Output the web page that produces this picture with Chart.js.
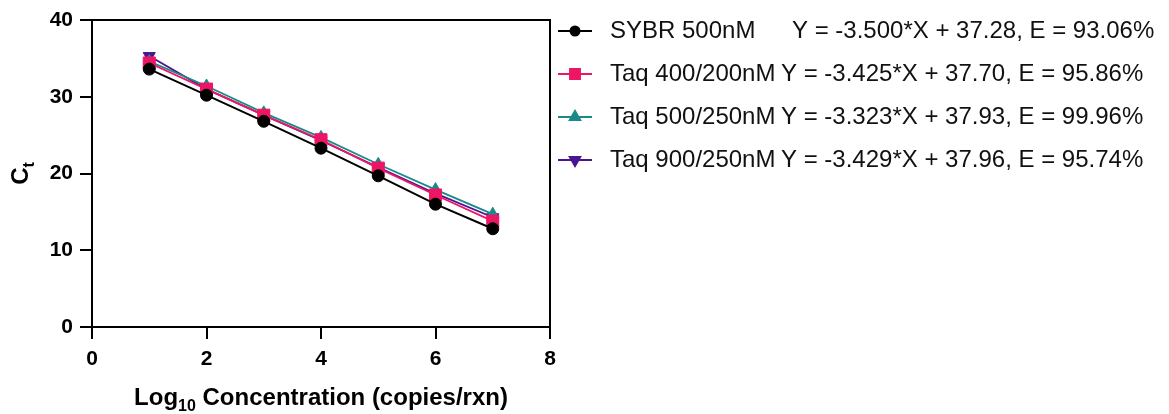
<!DOCTYPE html>
<html><head><meta charset="utf-8">
<script src="https://cdn.jsdelivr.net/npm/chart.js@4.4.1/dist/chart.umd.min.js"></script>
<style>html,body{margin:0;padding:0;background:#fff;overflow:hidden}#wrap{width:1169px;height:414px;position:relative}</style>
</head><body><div id="wrap"><canvas id="c" width="1169" height="414"></canvas></div>
<script>
// ---- data ----
const concentrations = [1, 2, 3, 4, 5, 6, 7];
const seriesNames = ['SYBR 500nM', 'Taq 400/200nM', 'Taq 500/250nM', 'Taq 900/250nM'];
const equations = [
  'Y = -3.500*X + 37.28, E = 93.06%',
  'Y = -3.425*X + 37.70, E = 95.86%',
  'Y = -3.323*X + 37.93, E = 99.96%',
  'Y = -3.429*X + 37.96, E = 95.74%'
];
const sybr500 = [33.6, 30.2, 26.8, 23.3, 19.7, 16.0, 12.8];
const taq400_200 = [34.4, 31.0, 27.6, 24.4, 20.7, 17.2, 13.8];
const taq500_250 = [34.6, 31.4, 27.9, 24.7, 21.2, 17.9, 14.7];
const taq900_250 = [35.3, 31.0, 27.6, 24.3, 20.8, 17.4, 14.3];
const xTickValues = [0, 2, 4, 6, 8];
const yTickValues = [0, 10, 20, 30, 40];
const xTitleMain = 'Log', xTitleSub = '10', xTitleRest = ' Concentration (copies/rxn)';
const yTitleMain = 'C', yTitleSub = 't';

// ---- styles ----
const FONT = '"Liberation Sans", Arial, Helvetica, sans-serif';
const colors = ['#000000', '#ee1565', '#1b8a87', '#4a1590'];
const pStyles = ['circle', 'rect', 'triangle', 'triangle'];
const pRot = [0, 0, 0, 180];
const pRad = [6, 8.5, 7, 7];
const legendRad = [4.5, 7, 6, 6];
const allSeries = [sybr500, taq400_200, taq500_250, taq900_250];

const datasets = allSeries.map((vals, i) => ({
  label: seriesNames[i],
  data: concentrations.map((x, j) => ({ x: x, y: vals[j] })),
  borderColor: colors[i],
  backgroundColor: colors[i],
  pointBackgroundColor: colors[i],
  pointBorderColor: colors[i],
  pointBorderWidth: 1,
  pointStyle: pStyles[i],
  pointRotation: pRot[i],
  pointRadius: pRad[i],
  borderWidth: i === 0 ? 2 : 1.8,
  tension: 0,
  fill: false,
  clip: false
}));

const decor = {
  id: 'decor',
  afterDraw(chart) {
    const ctx = chart.ctx, a = chart.chartArea;
    ctx.save();
    // frame
    ctx.strokeStyle = '#000'; ctx.lineWidth = 2;
    ctx.strokeRect(a.left, a.top, a.right - a.left, a.bottom - a.top);
    ctx.fillStyle = '#000';
    // x title
    ctx.textBaseline = 'alphabetic'; ctx.textAlign = 'left';
    ctx.font = 'bold 24px ' + FONT;
    const w1 = ctx.measureText(xTitleMain).width;
    const w3 = ctx.measureText(xTitleRest).width;
    ctx.font = 'bold 16px ' + FONT;
    const w2 = ctx.measureText(xTitleSub).width;
    const cx = (a.left + a.right) / 2;
    let sx = cx - (w1 + w2 + w3) / 2;
    const by = 405;
    ctx.font = 'bold 24px ' + FONT;
    ctx.fillText(xTitleMain, sx, by);
    ctx.font = 'bold 16px ' + FONT;
    ctx.fillText(xTitleSub, sx + w1, by + 6);
    ctx.font = 'bold 24px ' + FONT;
    ctx.fillText(xTitleRest, sx + w1 + w2, by);
    // y title
    ctx.save();
    ctx.translate(28, (a.top + a.bottom) / 2);
    ctx.rotate(-Math.PI / 2);
    ctx.font = 'bold 24px ' + FONT;
    const wc = ctx.measureText(yTitleMain).width;
    ctx.font = 'bold 16px ' + FONT;
    const wt = ctx.measureText(yTitleSub).width;
    const s0 = -(wc + wt) / 2;
    ctx.font = 'bold 24px ' + FONT;
    ctx.fillText(yTitleMain, s0, 0);
    ctx.font = 'bold 16px ' + FONT;
    ctx.fillText(yTitleSub, s0 + wc, 6);
    ctx.restore();
    // legend
    const rowY = [31, 74, 117, 160];
    const eqX = [792, 781, 781, 781];
    for (let i = 0; i < seriesNames.length; i++) {
      const y = rowY[i];
      ctx.strokeStyle = colors[i]; ctx.fillStyle = colors[i]; ctx.lineWidth = 2;
      ctx.beginPath(); ctx.moveTo(558, y); ctx.lineTo(592, y); ctx.stroke();
      Chart.helpers.drawPoint(ctx, { pointStyle: pStyles[i], rotation: pRot[i], radius: legendRad[i], borderWidth: 1 }, 575, y);
      ctx.fillStyle = '#111';
      ctx.font = '24px ' + FONT;
      ctx.textBaseline = 'middle'; ctx.textAlign = 'left';
      ctx.fillText(seriesNames[i], 610, y);
      ctx.fillText(equations[i], eqX[i], y);
    }
    ctx.restore();
  }
};

const tickFont = { family: FONT, size: 21, weight: 'bold' };
new Chart(document.getElementById('c'), {
  type: 'line',
  data: { datasets: datasets },
  options: {
    responsive: false,
    devicePixelRatio: 1,
    animation: false,
    layout: { padding: { left: 0, top: 20, right: 619, bottom: 0 } },
    plugins: { legend: { display: false }, tooltip: { enabled: false } },
    scales: {
      x: {
        type: 'linear', min: 0, max: 8,
        afterBuildTicks: s => { s.ticks = xTickValues.map(v => ({ value: v })); },
        afterFit: s => { s.height = 87; },
        ticks: { font: tickFont, color: '#000', padding: 8, maxRotation: 0 },
        grid: { display: true, drawOnChartArea: false, drawTicks: true, tickLength: 12, color: '#000', lineWidth: 2, tickColor: '#000', tickWidth: 2 },
        border: { display: true, color: '#000', width: 2 }
      },
      y: {
        type: 'linear', min: 0, max: 40,
        afterBuildTicks: s => { s.ticks = yTickValues.map(v => ({ value: v })); },
        afterFit: s => { s.width = 92; },
        ticks: { font: tickFont, color: '#000', padding: 7 },
        grid: { display: true, drawOnChartArea: false, drawTicks: true, tickLength: 12, color: '#000', lineWidth: 2, tickColor: '#000', tickWidth: 2 },
        border: { display: true, color: '#000', width: 2 }
      }
    }
  },
  plugins: [decor]
});
</script>
</body></html>
